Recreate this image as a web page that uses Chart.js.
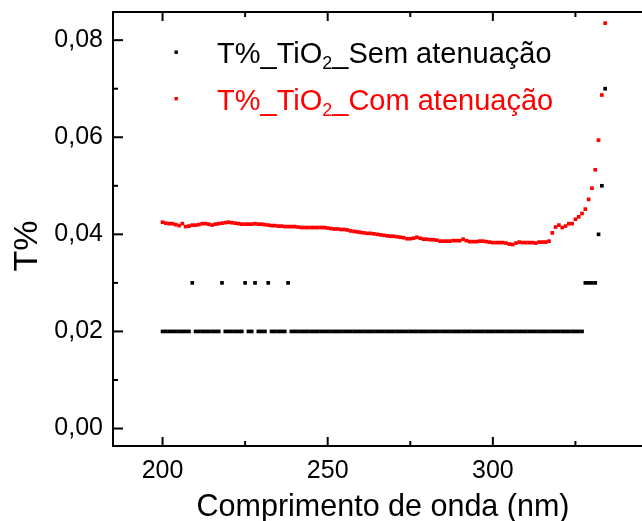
<!DOCTYPE html>
<html>
<head>
<meta charset="utf-8">
<script src="https://cdn.jsdelivr.net/npm/chart.js@4"></script>
<style>
  html, body { margin: 0; padding: 0; background: #fff; overflow: hidden; }
  canvas { display: block; }
</style>
</head>
<body>
<canvas id="chart" width="662" height="521"></canvas>
<script>
'use strict';

// wavelength grid, 1 nm steps (nm)
const wavelength = [
    200, 201, 202, 203, 204, 205, 206, 207, 208, 209,
    210, 211, 212, 213, 214, 215, 216, 217, 218, 219,
    220, 221, 222, 223, 224, 225, 226, 227, 228, 229,
    230, 231, 232, 233, 234, 235, 236, 237, 238, 239,
    240, 241, 242, 243, 244, 245, 246, 247, 248, 249,
    250, 251, 252, 253, 254, 255, 256, 257, 258, 259,
    260, 261, 262, 263, 264, 265, 266, 267, 268, 269,
    270, 271, 272, 273, 274, 275, 276, 277, 278, 279,
    280, 281, 282, 283, 284, 285, 286, 287, 288, 289,
    290, 291, 292, 293, 294, 295, 296, 297, 298, 299,
    300, 301, 302, 303, 304, 305, 306, 307, 308, 309,
    310, 311, 312, 313, 314, 315, 316, 317, 318, 319,
    320, 321, 322, 323, 324, 325, 326, 327, 328, 329,
    330, 331, 332, 333, 334
];

// T% without attenuation (instrument resolution 0.01)
const semAtenuacao = [
    0.02, 0.02, 0.02, 0.02, 0.02, 0.02, 0.02, 0.02, 0.02, 0.03,
    0.02, 0.02, 0.02, 0.02, 0.02, 0.02, 0.02, 0.02, 0.03, 0.02,
    0.02, 0.02, 0.02, 0.02, 0.02, 0.03, 0.02, 0.02, 0.03, 0.02,
    0.02, 0.02, 0.03, 0.02, 0.02, 0.02, 0.02, 0.02, 0.03, 0.02,
    0.02, 0.02, 0.02, 0.02, 0.02, 0.02, 0.02, 0.02, 0.02, 0.02,
    0.02, 0.02, 0.02, 0.02, 0.02, 0.02, 0.02, 0.02, 0.02, 0.02,
    0.02, 0.02, 0.02, 0.02, 0.02, 0.02, 0.02, 0.02, 0.02, 0.02,
    0.02, 0.02, 0.02, 0.02, 0.02, 0.02, 0.02, 0.02, 0.02, 0.02,
    0.02, 0.02, 0.02, 0.02, 0.02, 0.02, 0.02, 0.02, 0.02, 0.02,
    0.02, 0.02, 0.02, 0.02, 0.02, 0.02, 0.02, 0.02, 0.02, 0.02,
    0.02, 0.02, 0.02, 0.02, 0.02, 0.02, 0.02, 0.02, 0.02, 0.02,
    0.02, 0.02, 0.02, 0.02, 0.02, 0.02, 0.02, 0.02, 0.02, 0.02,
    0.02, 0.02, 0.02, 0.02, 0.02, 0.02, 0.02, 0.02, 0.03, 0.03,
    0.03, 0.03, 0.04, 0.05, 0.07
];

// T% with attenuation
const comAtenuacao = [
    0.0425, 0.0423, 0.0422, 0.0422, 0.0420, 0.0418, 0.0422, 0.0416, 0.0417, 0.0419,
    0.0419, 0.0420, 0.0422, 0.0422, 0.0421, 0.0419, 0.0421, 0.0422, 0.0423, 0.0424,
    0.0425, 0.0424, 0.0423, 0.0422, 0.0421, 0.0421, 0.0421, 0.0421, 0.0422, 0.0421,
    0.0421, 0.0420, 0.0419, 0.0418, 0.0418, 0.0417, 0.0417, 0.0416, 0.0416, 0.0416,
    0.0416, 0.0415, 0.0414, 0.0414, 0.0414, 0.0414, 0.0414, 0.0414, 0.0414, 0.0414,
    0.0413, 0.0412, 0.0411, 0.0411, 0.0410, 0.0410, 0.0409, 0.0407, 0.0406, 0.0405,
    0.0404, 0.0403, 0.0402, 0.0402, 0.0401, 0.0400, 0.0399, 0.0398, 0.0397, 0.0396,
    0.0396, 0.0395, 0.0394, 0.0393, 0.0391, 0.0391, 0.0392, 0.0394, 0.0392, 0.0390,
    0.0390, 0.0389, 0.0389, 0.0388, 0.0386, 0.0386, 0.0386, 0.0386, 0.0387, 0.0387,
    0.0387, 0.0390, 0.0387, 0.0385, 0.0385, 0.0385, 0.0386, 0.0386, 0.0385, 0.0384,
    0.0383, 0.0383, 0.0383, 0.0383, 0.0382, 0.0380, 0.0379, 0.0382, 0.0384, 0.0383,
    0.0383, 0.0383, 0.0383, 0.0382, 0.0384, 0.0384, 0.0384, 0.0386, 0.0403, 0.0415,
    0.0419, 0.0414, 0.0417, 0.0422, 0.0422, 0.0431, 0.0436, 0.0443, 0.0452, 0.0472,
    0.0495, 0.0533, 0.0594, 0.0687, 0.0835
];

const seriesLabels = ['T%_TiO₂_Sem atenuação', 'T%_TiO₂_Com atenuação'];
const seriesColors = ['#000000', '#ff0000'];

const xTicks = [200, 250, 300];
const xMinorTicks = [225, 275, 325];
const yTicks = [0, 0.02, 0.04, 0.06, 0.08];
const yMinorTicks = [0.01, 0.03, 0.05, 0.07];
const xTitle = 'Comprimento de onda (nm)';
const yTitle = 'T%';

const FONT = '"Liberation Sans", Arial, sans-serif';

let points = values => wavelength.map((w, i) => ({ x: w, y: values[i] }));

// closed box with inward ticks on all four sides
const frame = {
    id: 'frame',
    afterDatasetsDraw(chart) {
        let { ctx, chartArea: a, scales: { x, y } } = chart;
        ctx.save();
        ctx.strokeStyle = '#000';
        ctx.lineWidth = 2;
        ctx.strokeRect(a.left, a.top, a.right - a.left, a.bottom - a.top);
        let line = (x1, y1, x2, y2) => {
            ctx.beginPath();
            ctx.moveTo(x1, y1);
            ctx.lineTo(x2, y2);
            ctx.stroke();
        };
        let xMarks = xTicks.map(v => [v, 9]).concat(xMinorTicks.map(v => [v, 5]));
        xMarks.forEach(([v, len]) => {
            let px = x.getPixelForValue(v);
            line(px, a.bottom, px, a.bottom - len);
            line(px, a.top, px, a.top + len);
        });
        let yMarks = yTicks.map(v => [v, 10]).concat(yMinorTicks.map(v => [v, 5]));
        yMarks.forEach(([v, len]) => {
            let py = y.getPixelForValue(v);
            line(a.left, py, a.left + len, py);
            line(a.right, py, a.right - len, py);
        });
        ctx.restore();
    }
};

// text with the "2" of TiO2 set as a subscript
function drawFormula(ctx, text, x, baseline, size) {
    let parts = text.split('₂');
    ctx.font = size + 'px ' + FONT;
    ctx.fillText(parts[0], x, baseline);
    x += ctx.measureText(parts[0]).width;
    if (parts.length > 1) {
        let sub = Math.round(size * 0.62);
        ctx.font = sub + 'px ' + FONT;
        ctx.fillText('2', x, baseline + 6);
        x += ctx.measureText('2').width;
        ctx.font = size + 'px ' + FONT;
        ctx.fillText(parts[1], x, baseline);
    }
}

const legendBox = {
    id: 'legendBox',
    afterDraw(chart) {
        let { ctx } = chart;
        ctx.save();
        ctx.textBaseline = 'alphabetic';
        ctx.textAlign = 'left';
        chart.data.datasets.forEach((ds, i) => {
            let rowY = 52 + i * 46.5;
            ctx.fillStyle = ds.pointBackgroundColor;
            ctx.fillRect(174.5, rowY - 1.5, 3.4, 3.4);
            drawFormula(ctx, ds.label, 217, rowY + 11, 29);
        });
        ctx.restore();
    }
};

const axisTitles = {
    id: 'axisTitles',
    afterDraw(chart) {
        let { ctx } = chart;
        ctx.save();
        ctx.fillStyle = '#000';
        ctx.textAlign = 'center';
        ctx.textBaseline = 'alphabetic';
        ctx.font = '30.5px ' + FONT;
        ctx.fillText(xTitle, 383, 516);
        ctx.translate(37, 246);
        ctx.rotate(-Math.PI / 2);
        ctx.font = '34px ' + FONT;
        ctx.fillText(yTitle, 0, 0);
        ctx.restore();
    }
};

let tickFont = { family: FONT, size: 25 };

// the box runs past the right edge of the page, so edge labels must not pull it in
let noEdgePadding = scale => {
    scale.paddingLeft = 0;
    scale.paddingRight = 0;
    scale.paddingTop = 0;
    scale.paddingBottom = 0;
};

new Chart(document.getElementById('chart'), {
    type: 'scatter',
    data: {
        datasets: [semAtenuacao, comAtenuacao].map((values, i) => ({
            label: seriesLabels[i],
            data: points(values),
            pointStyle: 'rect',
            pointRadius: 2.6,
            pointBorderWidth: 0,
            pointBackgroundColor: seriesColors[i],
            order: 1 - i
        }))
    },
    options: {
        responsive: false,
        animation: false,
        events: [],
        layout: { padding: { top: 12, right: 2, left: 0, bottom: 0 } },
        plugins: { legend: { display: false }, tooltip: { enabled: false } },
        scales: {
            x: {
                type: 'linear',
                min: 185,
                max: 350,
                grid: { display: false, drawTicks: false },
                border: { display: false },
                afterBuildTicks: scale => { scale.ticks = xTicks.map(v => ({ value: v })); },
                afterFit: scale => { scale.height = 75; noEdgePadding(scale); },
                ticks: { padding: 10, color: '#000', font: tickFont, maxRotation: 0, callback: v => String(v) }
            },
            y: {
                min: -0.0036,
                max: 0.0858,
                grid: { display: false, drawTicks: false },
                border: { display: false },
                afterBuildTicks: scale => { scale.ticks = yTicks.map(v => ({ value: v })); },
                afterFit: scale => { scale.width = 113; noEdgePadding(scale); },
                ticks: { padding: 10, color: '#000', font: tickFont, callback: v => v.toFixed(2).replace('.', ',') }
            }
        }
    },
    plugins: [frame, legendBox, axisTitles]
});
</script>
</body>
</html>
